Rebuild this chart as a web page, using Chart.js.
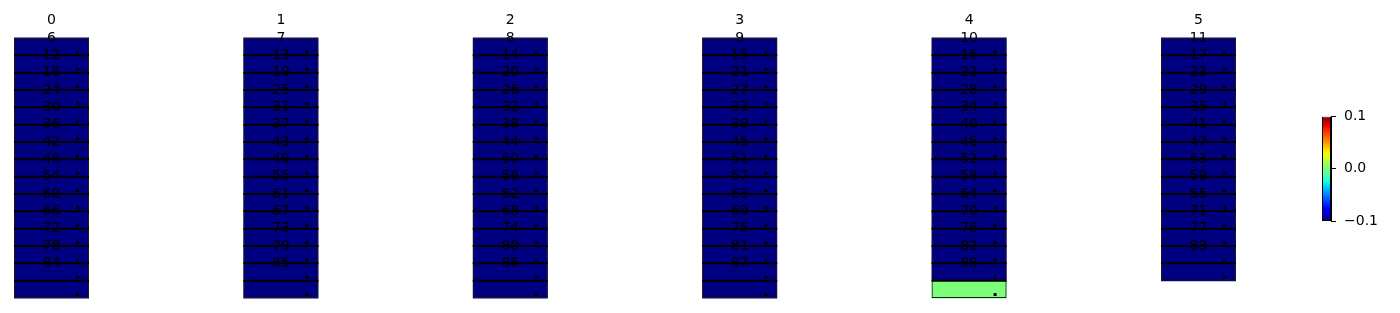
<!DOCTYPE html>
<html><head><meta charset="utf-8">
<script src="https://cdn.jsdelivr.net/npm/chart.js@4.4.0/dist/chart.umd.min.js"></script>
<style>
html,body{margin:0;padding:0;background:#fff;width:1400px;height:313px;overflow:hidden;}
#main{position:absolute;left:0;top:0;width:1300px;height:313px;}
#cbar{position:absolute;left:1322px;top:100px;width:78px;height:140px;}
</style></head><body>
<canvas id="main" width="1300" height="313"></canvas>
<canvas id="cbar" width="78" height="140"></canvas>
<script>
// ---- data ----
const columnIndex = [0, 1, 2, 3, 4, 5];
const labelsCol0 = [0, 6, 12, 18, 24, 30, 36, 42, 48, 54, 60, 66, 72, 78, 84];
const labelsCol1 = [1, 7, 13, 19, 25, 31, 37, 43, 49, 55, 61, 67, 73, 79, 85];
const labelsCol2 = [2, 8, 14, 20, 26, 32, 38, 44, 50, 56, 62, 68, 74, 80, 86];
const labelsCol3 = [3, 9, 15, 21, 27, 33, 39, 45, 51, 57, 63, 69, 75, 81, 87];
const labelsCol4 = [4, 10, 16, 22, 28, 34, 40, 46, 52, 58, 64, 70, 76, 82, 88];
const labelsCol5 = [5, 11, 17, 23, 29, 35, 41, 47, 53, 59, 65, 71, 77, 83];
const valuesCol0 = [-0.1, -0.1, -0.1, -0.1, -0.1, -0.1, -0.1, -0.1, -0.1, -0.1, -0.1, -0.1, -0.1, -0.1, -0.1];
const valuesCol1 = [-0.1, -0.1, -0.1, -0.1, -0.1, -0.1, -0.1, -0.1, -0.1, -0.1, -0.1, -0.1, -0.1, -0.1, -0.1];
const valuesCol2 = [-0.1, -0.1, -0.1, -0.1, -0.1, -0.1, -0.1, -0.1, -0.1, -0.1, -0.1, -0.1, -0.1, -0.1, -0.1];
const valuesCol3 = [-0.1, -0.1, -0.1, -0.1, -0.1, -0.1, -0.1, -0.1, -0.1, -0.1, -0.1, -0.1, -0.1, -0.1, -0.1];
const valuesCol4 = [-0.1, -0.1, -0.1, -0.1, -0.1, -0.1, -0.1, -0.1, -0.1, -0.1, -0.1, -0.1, -0.1, -0.1, 0.0];
const valuesCol5 = [-0.1, -0.1, -0.1, -0.1, -0.1, -0.1, -0.1, -0.1, -0.1, -0.1, -0.1, -0.1, -0.1, -0.1];
const colorbarTicks = [-0.1, 0.0, 0.1];

const columnLabels = [labelsCol0, labelsCol1, labelsCol2, labelsCol3, labelsCol4, labelsCol5];
const columnValues = [valuesCol0, valuesCol1, valuesCol2, valuesCol3, valuesCol4, valuesCol5];

// ---- colormap ----
const VMIN = colorbarTicks[0], VMAX = colorbarTicks[colorbarTicks.length - 1];
function interp(pts, t) {
  for (let i = 1; i < pts.length; i++) {
    if (t <= pts[i][0]) {
      const [x0, y0] = pts[i - 1], [x1, y1] = pts[i];
      return y0 + (y1 - y0) * (t - x0) / (x1 - x0);
    }
  }
  return pts[pts.length - 1][1];
}
function jet(t) {
  t = Math.max(0, Math.min(1, t));
  const r = interp([[0, 0], [0.35, 0], [0.66, 1], [0.89, 1], [1, 0.5]], t);
  const g = interp([[0, 0], [0.125, 0], [0.375, 1], [0.64, 1], [0.91, 0], [1, 0]], t);
  const b = interp([[0, 0.5], [0.11, 1], [0.34, 1], [0.65, 0], [1, 0]], t);
  return `rgb(${Math.round(r * 255)},${Math.round(g * 255)},${Math.round(b * 255)})`;
}
const colorOf = v => jet((v - VMIN) / (VMAX - VMIN));

// ---- layout (pixels) ----
const COL_STEP_PX = 229.4, COL_CENTER0_PX = 51.5, COL_WIDTH_PX = 75;
const ROW_PX = 260 / 15, TOP_PX = 38;
const HALF_W = (COL_WIDTH_PX / 2) / COL_STEP_PX;
const DOT_DX = 26 / COL_STEP_PX, DOT_DY = 0.8;

const cellData = [], dotData = [], frameData = [], sepData = [];
columnIndex.forEach((c, i) => {
  const n = columnValues[i].length;
  frameData.push({ x: c, y: [0, n] });
  columnValues[i].forEach((v, r) => {
    cellData.push({ x: c, y: [r, r + 1], v: v });
    dotData.push({ x: c + DOT_DX, y: r + DOT_DY });
    if (r > 0) {
      sepData.push({ x: c - HALF_W, y: r });
      sepData.push({ x: c + HALF_W, y: r });
      sepData.push({ x: c, y: null });
    }
  });
});

const labelPlugin = {
  id: 'cellLabels',
  afterDatasetsDraw(chart) {
    const { ctx, scales: { x, y } } = chart;
    ctx.save();
    ctx.font = '14px "DejaVu Sans"';
    ctx.fillStyle = '#000';
    ctx.textAlign = 'center';
    ctx.textBaseline = 'middle';
    columnIndex.forEach((c, i) => {
      columnLabels[i].forEach((lab, k) => {
        ctx.fillText(String(lab), x.getPixelForValue(c), y.getPixelForValue(k - 1));
      });
    });
    ctx.restore();
  }
};

const W_MAIN = 1300, H_MAIN = 313;
new Chart(document.getElementById('main'), {
  type: 'bar',
  data: {
    datasets: [
      {
        type: 'scatter', data: dotData, order: 0,
        pointStyle: 'rect', pointRadius: 2.1, pointBorderWidth: 0,
        backgroundColor: '#000', borderColor: '#000'
      },
      {
        type: 'line', data: sepData, order: 1,
        borderColor: '#000', borderWidth: 2, pointRadius: 0,
        spanGaps: false, fill: false, tension: 0
      },
      {
        type: 'bar', data: frameData, order: 2,
        backgroundColor: 'rgba(0,0,0,0)', borderColor: '#1a1a1a',
        borderWidth: 1, borderSkipped: false, inflateAmount: 0,
        barThickness: COL_WIDTH_PX, grouped: false
      },
      {
        type: 'bar', data: cellData, order: 3,
        backgroundColor: ctx => colorOf(ctx.raw ? ctx.raw.v : VMIN),
        borderWidth: 0, inflateAmount: 0.5,
        barThickness: COL_WIDTH_PX - 1, grouped: false
      }
    ]
  },
  options: {
    responsive: false, animation: false, events: [],
    layout: { padding: 0, autoPadding: false },
    plugins: { legend: { display: false }, tooltip: { enabled: false } },
    scales: {
      x: {
        type: 'linear', display: false, offset: false,
        min: -COL_CENTER0_PX / COL_STEP_PX,
        max: (W_MAIN - COL_CENTER0_PX) / COL_STEP_PX
      },
      y: {
        type: 'linear', display: false, reverse: true, offset: false,
        min: -TOP_PX / ROW_PX,
        max: (H_MAIN - TOP_PX) / ROW_PX
      }
    }
  },
  plugins: [labelPlugin]
});

// ---- colorbar ----
new Chart(document.getElementById('cbar'), {
  type: 'bar',
  data: {
    labels: [''],
    datasets: [{
      data: [[VMIN, VMAX]],
      backgroundColor: ctx => {
        const area = ctx.chart.chartArea;
        if (!area) return colorOf(0);
        const g = ctx.chart.ctx.createLinearGradient(0, area.bottom, 0, area.top);
        for (let i = 0; i <= 64; i++) g.addColorStop(i / 64, jet(i / 64));
        return g;
      },
      borderColor: '#000', borderWidth: 1, borderSkipped: false,
      inflateAmount: 0,
      barThickness: 9
    }]
  },
  options: {
    responsive: false, animation: false, events: [],
    layout: { padding: { top: 13, bottom: 19, left: 0, right: 0 }, autoPadding: false },
    plugins: { legend: { display: false }, tooltip: { enabled: false } },
    scales: {
      x: { display: false },
      y: {
        position: 'right', min: VMIN, max: VMAX,
        afterBuildTicks: s => { s.ticks = colorbarTicks.map(v => ({ value: v })); },
        afterFit: s => { s.width = 69; },
        grid: { drawOnChartArea: false, drawTicks: true, tickLength: 5, color: '#000', lineWidth: 1 },
        border: { display: true, color: '#000', width: 1 },
        ticks: {
          padding: 8, color: '#000',
          font: { family: 'DejaVu Sans', size: 14 },
          callback: v => (Math.abs(v) < 1e-9 ? '0.0' : (v < 0 ? '\u2212' + Math.abs(v).toFixed(1) : v.toFixed(1)))
        }
      }
    }
  }
});
</script>
</body></html>
